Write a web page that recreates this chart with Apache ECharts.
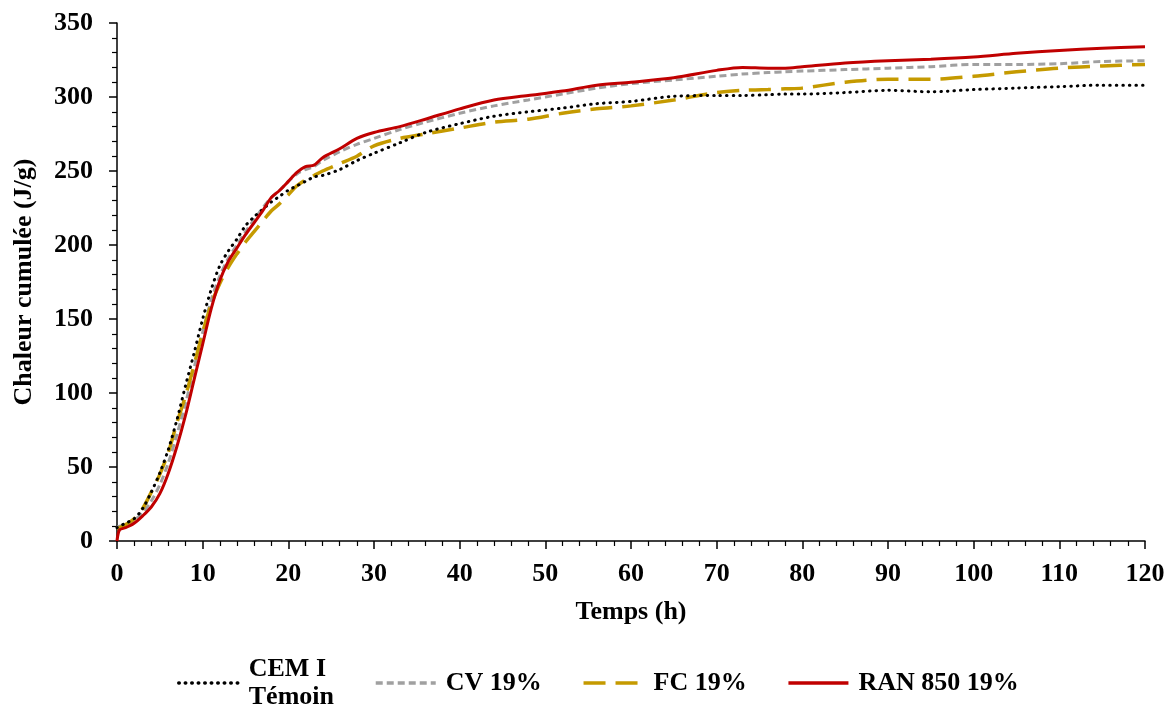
<!DOCTYPE html>
<html>
<head>
<meta charset="utf-8">
<script src="https://cdn.jsdelivr.net/npm/echarts@6/dist/echarts.min.js"></script>
<style>html,body{margin:0;padding:0;background:#fff;}#c{width:1174px;height:709px;}</style>
</head>
<body>
<div id="c"></div>
<script>
const times = [0,0.3,1,2,3,4,5,6,7,8,9,10,11,12,13,14,15,16,17,18,19,20,21,22,23,24,26,28,30,33,36,40,44,48,52,56,60,65,70,73,76,78,80,85,90,95,100,105,110,115,120];
const cemTemoin = [9,10,12,15,22,33,46,62,82,105,127,150,170,186,196,204,213,219,224,229,233,237,240,243,246,247,251,257,262,269,276,282,287,290,292.5,295.5,297,300.5,301,301,301.5,302,302,303,304.5,303.5,305,306,307,308,308];
const cv19 = [9,10,11,14,19,27,38,53,72,93,117,141,163,179,191,200,209,217,225,232,237,243,248,251,253,257,263,268,272,278,283,289,294,298,302,306,309,311.5,314,315.5,316.5,317,317.5,318.5,319.5,320.5,322,322,322.5,324,324.5];
const fc19 = [8,9,11,15,22,33,45,60,80,98,119,141,160,174,185,194,202,209,216,223,228,234,240,244,247,250,255,260,267,272,275,279,283,285,289,292,294,298,303,304.5,305,305.5,306,310,312,312,314,317,319.5,321,322];
const ran850 = [0,7.5,9,12,17,23,32,46,64,85,109,133,157,176,189,198,207,215,223,232,237,243,249,253,254,259,265,272,276,280,285,292,298,301,304,308,310,313,318,320,319.5,319.5,320.5,323,324.5,325.5,327,329.5,331.5,333,334];
const seriesNames = ['CEM I\nTémoin','CV 19%','FC 19%','RAN 850 19%'];
const xTitle = 'Temps (h)';
const yTitle = 'Chaleur cumulée (J/g)';

const pair = arr => times.map((t,i)=>[t,arr[i]]);
const font = 'Liberation Serif';
const chart = echarts.init(document.getElementById('c'));
const axisCommon = {
  axisLine:{show:true,lineStyle:{color:'#000',width:1.5}},
  axisTick:{show:true,length:8,lineStyle:{color:'#000',width:1.5}},
  minorTick:{show:true,splitNumber:5,length:5,lineStyle:{color:'#000',width:1.2}},
  splitLine:{show:false},
  axisLabel:{color:'#000',fontFamily:font,fontWeight:'bold',fontSize:26},
  nameTextStyle:{color:'#000',fontFamily:font,fontWeight:'bold',fontSize:26}
};
const mkSeries = (name, arr, color, lineStyle, z) => ({
  name, type:'line', data:pair(arr), showSymbol:false, symbol:'none', smooth:0.3,
  lineStyle:Object.assign({color}, lineStyle), itemStyle:{color, opacity:0}, z
});
chart.setOption({
  animation:false,
  backgroundColor:'#fff',
  grid:{left:117,right:29,top:23,bottom:168,containLabel:false},
  xAxis:Object.assign({},axisCommon,{type:'value',min:0,max:120,interval:10,name:xTitle,nameLocation:'middle',nameGap:58,
    axisLabel:Object.assign({},axisCommon.axisLabel,{margin:20})}),
  yAxis:Object.assign({},axisCommon,{type:'value',min:0,max:350,interval:50,name:yTitle,nameLocation:'middle',nameGap:80,
    axisLabel:Object.assign({},axisCommon.axisLabel,{margin:24})}),
  legend:{left:172,top:650,itemGap:40,itemWidth:60,itemHeight:14,
    itemStyle:{opacity:0},
    lineStyle:{width:3.5},
    textStyle:{color:'#000',fontFamily:font,fontWeight:'bold',fontSize:26,lineHeight:28,padding:[0,0,0,5]},
    data:seriesNames},
  series:[
    mkSeries(seriesNames[0], cemTemoin, '#000', {width:3,type:[0.5,6],cap:'round'}, 4),
    mkSeries(seriesNames[1], cv19, '#a0a0a0', {width:3,type:[7,4]}, 2),
    mkSeries(seriesNames[2], fc19, '#c59a00', {width:3.5,type:[22,10]}, 3),
    mkSeries(seriesNames[3], ran850, '#c00000', {width:3}, 5)
  ]
});
</script>
</body>
</html>
